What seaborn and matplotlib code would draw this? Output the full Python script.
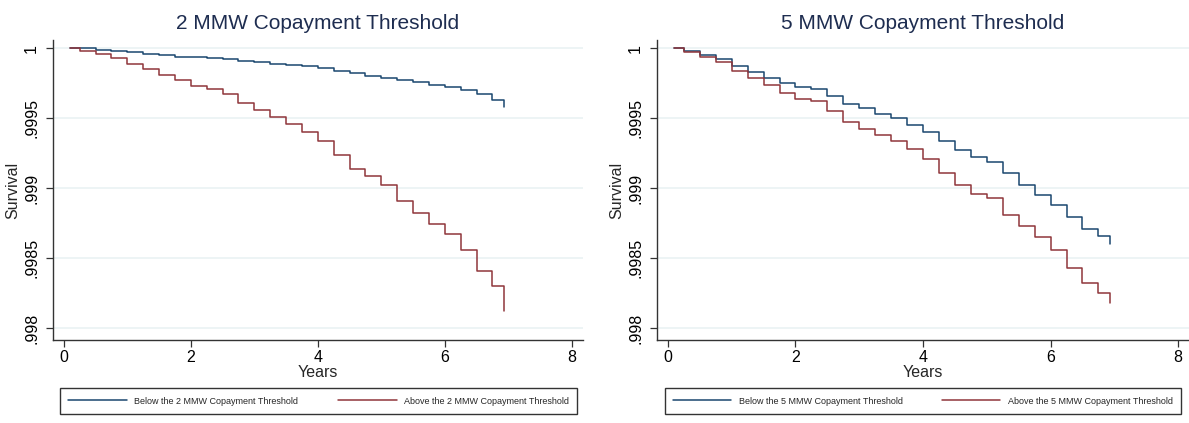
import pandas as pd
import matplotlib.pyplot as plt
import seaborn as sns

# follow-up times (years)
years = [0.1, 0.25, 0.5, 0.75, 1.0, 1.25, 1.5, 1.75, 2.0, 2.25, 2.5, 2.75, 3.0, 3.25, 3.5,
         3.75, 4.0, 4.25, 4.5, 4.75, 5.0, 5.25, 5.5, 5.75, 6.0, 6.25, 6.5, 6.75, 6.93]

# 2 MMW threshold
below_2mmw = [1.0, 1.0, 0.99999, 0.99998, 0.99997, 0.99996, 0.99995, 0.99994, 0.99994, 0.99993,
              0.99992, 0.99991, 0.9999, 0.99989, 0.99988, 0.99987, 0.99986, 0.99984, 0.99982,
              0.9998, 0.99979, 0.99977, 0.99976, 0.99974, 0.99972, 0.9997, 0.99967, 0.99963, 0.99958]
above_2mmw = [1.0, 0.99998, 0.99996, 0.99993, 0.99989, 0.99985, 0.99981, 0.99977, 0.99973, 0.99971,
              0.99967, 0.99961, 0.99956, 0.99951, 0.99946, 0.9994, 0.99934, 0.99924, 0.99914,
              0.99909, 0.99902, 0.99891, 0.99882, 0.99874, 0.99867, 0.99856, 0.99841, 0.9983, 0.99812]

# 5 MMW threshold
below_5mmw = [1.0, 0.99998, 0.99995, 0.99992, 0.99987, 0.99983, 0.99979, 0.99975, 0.99972, 0.99971,
              0.99966, 0.9996, 0.99957, 0.99953, 0.9995, 0.99945, 0.9994, 0.99934, 0.99927,
              0.99922, 0.99919, 0.99911, 0.99902, 0.99895, 0.99888, 0.99879, 0.99871, 0.99866, 0.9986]
above_5mmw = [1.0, 0.99997, 0.99994, 0.9999, 0.99984, 0.99979, 0.99974, 0.99968, 0.99964, 0.99962,
              0.99955, 0.99947, 0.99942, 0.99938, 0.99934, 0.99928, 0.99921, 0.99911, 0.99902,
              0.99896, 0.99893, 0.99881, 0.99873, 0.99865, 0.99856, 0.99843, 0.99832, 0.99825, 0.99818]

yticks = [0.998, 0.9985, 0.999, 0.9995, 1.0]
ytick_labels = [".998", ".9985", ".999", ".9995", "1"]
xticks = [0, 2, 4, 6, 8]

NAVY = "#1a476f"
MAROON = "#90353b"

sns.set_theme(style="white")
plt.rcParams['font.family'] = ['Liberation Sans', 'DejaVu Sans']

fig = plt.figure(figsize=(11.89, 4.23), dpi=100)

panels = [
    ("2", below_2mmw, above_2mmw, [0.0446, 0.196, 0.4454, 0.709], [0.0505, 0.022, 0.435, 0.063]),
    ("5", below_5mmw, above_5mmw, [0.5526, 0.196, 0.4474, 0.709], [0.559, 0.022, 0.434, 0.063]),
]

for mmw, below, above, rect, leg_rect in panels:
    ax = fig.add_axes(rect)
    df = pd.DataFrame({
        "Years": years * 2,
        "Survival": below + above,
        "Group": [f"Below the {mmw} MMW Copayment Threshold"] * len(years)
                 + [f"Above the {mmw} MMW Copayment Threshold"] * len(years),
    })
    sns.lineplot(data=df, x="Years", y="Survival", hue="Group", palette=[NAVY, MAROON],
                 estimator=None, sort=False, drawstyle="steps-post", linewidth=1.1, ax=ax)

    ax.set_xlim(-0.17, 8.17)
    ax.set_ylim(0.997914, 1.000057)
    ax.set_xticks(xticks)
    ax.set_yticks(yticks)
    ax.set_yticklabels(ytick_labels, rotation=90, va="center")
    ax.tick_params(axis="both", labelsize=11.5, length=5, width=0.9, colors="#333333",
                   direction="out", bottom=True, left=True, labelcolor="black")
    ax.tick_params(axis="y", pad=5)
    ax.tick_params(axis="x", pad=2)
    ax.grid(axis="y", color="#eaf2f3", linewidth=1.2)
    ax.grid(axis="x", visible=False)
    for side in ["top", "right"]:
        ax.spines[side].set_visible(False)
    for side in ["left", "bottom"]:
        ax.spines[side].set_color("#333333")
        ax.spines[side].set_linewidth(1.0)
    ax.set_xlabel("Years", fontsize=11.5, labelpad=0)
    ax.set_ylabel("Survival", fontsize=11.5, labelpad=3)
    ax.set_title(f"{mmw} MMW Copayment Threshold", fontsize=15, color="#1e2d50", pad=8)

    handles, labels = ax.get_legend_handles_labels()
    ax.get_legend().remove()
    leg = fig.legend(handles, labels, loc="lower left", bbox_to_anchor=leg_rect,
                     mode="expand", ncol=2, fontsize=6.5, frameon=True, fancybox=False,
                     handlelength=6.5, borderaxespad=0, borderpad=0.9, columnspacing=3)
    leg.get_frame().set_edgecolor("black")
    leg.get_frame().set_linewidth(1.0)

fig.savefig("out.png", dpi=100)
plt.close(fig)
